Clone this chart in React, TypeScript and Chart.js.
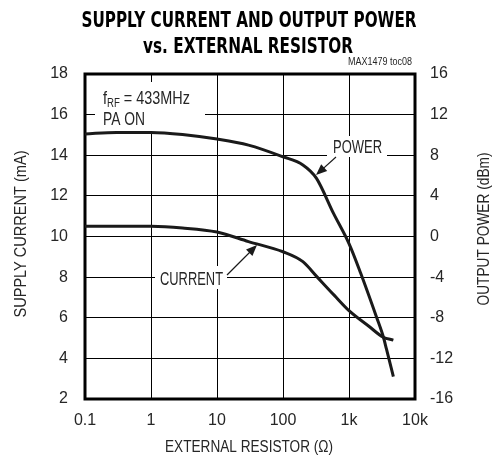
import React, { useEffect, useRef } from "react";
import { Chart, registerables } from "chart.js";

Chart.register(...registerables);

// ---- data ----
const currentResistorOhms = [0.1, 0.3, 1, 3, 10, 30, 100, 200, 320, 600, 1000, 2000, 3300, 4700];
const supplyCurrentMA = [10.5, 10.5, 10.5, 10.42, 10.22, 9.75, 9.25, 8.76, 8.05, 7.1, 6.35, 5.58, 5.04, 4.9];
const powerResistorOhms = [0.1, 0.3, 1, 3, 10, 30, 100, 200, 320, 580, 1000, 1500, 2600, 3300, 3700, 4700];
const outputPowerDBm = [10.1, 10.25, 10.25, 10.05, 9.6, 9.0, 7.85, 7.05, 5.75, 2.3, -0.7, -3.6, -7.9, -9.85, -11.1, -13.8];
const xTickValues = [0.1, 1, 10, 100, 1000, 10000];
const xTickLabels = ["0.1", "1", "10", "100", "1k", "10k"];
const titleLines = ["SUPPLY CURRENT AND OUTPUT POWER", "vs. EXTERNAL RESISTOR"];

const FONT = '"Liberation Sans", Arial, sans-serif';
const TITLE_FONT = '"DejaVu Sans Condensed", "DejaVu Sans", sans-serif';
const INK = "#1a1a1a";
const TEXT = "#262626";

function fitText(ctx: CanvasRenderingContext2D, text: string, x: number, y: number, w: number, font: string, align: CanvasTextAlign) {
  ctx.save();
  ctx.font = font;
  const m = ctx.measureText(text).width;
  ctx.translate(x, y);
  ctx.scale(w / m, 1);
  ctx.textAlign = align;
  ctx.textBaseline = "alphabetic";
  ctx.fillText(text, 0, 0);
  ctx.restore();
}

function rotText(ctx: CanvasRenderingContext2D, text: string, cx: number, cy: number, w: number, font: string) {
  ctx.save();
  ctx.font = font;
  const m = ctx.measureText(text).width;
  ctx.translate(cx, cy);
  ctx.rotate(-Math.PI / 2);
  ctx.scale(w / m, 1);
  ctx.textAlign = "center";
  ctx.textBaseline = "middle";
  ctx.fillText(text, 0, 0);
  ctx.restore();
}

function arrow(ctx: CanvasRenderingContext2D, x0: number, y0: number, x1: number, y1: number) {
  const a = Math.atan2(y1 - y0, x1 - x0);
  const L = 11, H = 4.5;
  ctx.save();
  ctx.strokeStyle = INK;
  ctx.fillStyle = INK;
  ctx.lineWidth = 1.2;
  ctx.beginPath();
  ctx.moveTo(x0, y0);
  ctx.lineTo(x1 - Math.cos(a) * L * 0.8, y1 - Math.sin(a) * L * 0.8);
  ctx.stroke();
  ctx.beginPath();
  ctx.moveTo(x1, y1);
  ctx.lineTo(x1 - Math.cos(a) * L - Math.sin(a) * H, y1 - Math.sin(a) * L + Math.cos(a) * H);
  ctx.lineTo(x1 - Math.cos(a) * L + Math.sin(a) * H, y1 - Math.sin(a) * L - Math.cos(a) * H);
  ctx.closePath();
  ctx.fill();
  ctx.restore();
}

const decorPlugin = {
  id: "decor",
  beforeDatasetsDraw(chart: any) {
    const ctx: CanvasRenderingContext2D = chart.ctx;
    const { left, top, right, bottom } = chart.chartArea;
    ctx.save();
    // white boxes behind annotations
    ctx.fillStyle = "#fff";
    ctx.fillRect(95, 82, 110, 49);
    ctx.fillRect(327, 136, 60, 21);
    ctx.fillRect(155, 266, 72, 23);
    // frame
    ctx.strokeStyle = "#000";
    ctx.lineWidth = 3;
    ctx.strokeRect(left, top, right - left, bottom - top);
    ctx.restore();
  },
  afterDraw(chart: any) {
    const ctx: CanvasRenderingContext2D = chart.ctx;
    ctx.save();
    ctx.fillStyle = "#000";
    // title
    fitText(ctx, titleLines[0], 249, 27, 335, `bold 22px ${TITLE_FONT}`, "center");
    fitText(ctx, titleLines[1], 248, 53, 210, `bold 22px ${TITLE_FONT}`, "center");
    ctx.fillStyle = TEXT;
    fitText(ctx, "MAX1479 toc08", 412, 65, 64, `10px ${FONT}`, "right");
    // axis titles
    rotText(ctx, "SUPPLY CURRENT (mA)", 22, 234, 167, `16px ${FONT}`);
    rotText(ctx, "OUTPUT POWER (dBm)", 485, 229, 153, `16px ${FONT}`);
    fitText(ctx, "EXTERNAL RESISTOR (\u03A9)", 249, 452, 168, `16px ${FONT}`, "center");
    // fRF annotation
    {
      const big = `18px ${FONT}`;
      const small = `12px ${FONT}`;
      ctx.font = big;
      const w1 = ctx.measureText("f").width;
      const w3 = ctx.measureText(" = 433MHz").width;
      ctx.font = small;
      const w2 = ctx.measureText("RF").width;
      const s = 87 / (w1 + w2 + w3);
      ctx.save();
      ctx.translate(103, 104);
      ctx.scale(s, 1);
      ctx.textAlign = "left";
      ctx.textBaseline = "alphabetic";
      ctx.font = big;
      ctx.fillText("f", 0, 0);
      ctx.font = small;
      ctx.fillText("RF", w1, 3);
      ctx.font = big;
      ctx.fillText(" = 433MHz", w1 + w2, 0);
      ctx.restore();
    }
    fitText(ctx, "PA ON", 103, 125, 42, `18px ${FONT}`, "left");
    fitText(ctx, "POWER", 333, 153, 49, `18px ${FONT}`, "left");
    fitText(ctx, "CURRENT", 160, 285, 63, `18px ${FONT}`, "left");
    arrow(ctx, 336, 157, 316, 175);
    arrow(ctx, 227, 275, 257, 245);
    ctx.restore();
  },
};

export default function App() {
  const ref = useRef<HTMLCanvasElement | null>(null);
  useEffect(() => {
    if (!ref.current) return;
    const tickFont = { family: FONT, size: 16 };
    const chart = new Chart(ref.current, {
      type: "line",
      data: {
        datasets: [
          {
            label: "CURRENT",
            data: currentResistorOhms.map((x, i) => ({ x, y: supplyCurrentMA[i] })),
            yAxisID: "y",
            borderColor: INK,
            borderWidth: 3,
            pointRadius: 0,
            cubicInterpolationMode: "monotone",
            fill: false,
          },
          {
            label: "POWER",
            data: powerResistorOhms.map((x, i) => ({ x, y: outputPowerDBm[i] })),
            yAxisID: "y1",
            borderColor: INK,
            borderWidth: 3,
            pointRadius: 0,
            cubicInterpolationMode: "monotone",
            fill: false,
          },
        ],
      },
      options: {
        responsive: false,
        animation: false,
        devicePixelRatio: 1,
        layout: { padding: { top: 74, left: 0, right: 0, bottom: 0 } },
        plugins: { legend: { display: false }, title: { display: false }, tooltip: { enabled: false } },
        scales: {
          x: {
            type: "logarithmic",
            min: 0.1,
            max: 10000,
            afterFit: (s: any) => { s.height = 60; },
            afterBuildTicks: (s: any) => { s.ticks = xTickValues.map((v) => ({ value: v })); },
            ticks: {
              autoSkip: false,
              maxRotation: 0,
              padding: 12,
              color: TEXT,
              font: tickFont,
              callback: (v: any) => {
                const i = xTickValues.findIndex((t) => Math.abs(t - Number(v)) < 1e-9 * Math.max(1, t));
                return i >= 0 ? xTickLabels[i] : "";
              },
            },
            grid: { color: "#000", lineWidth: 1, drawTicks: false },
            border: { display: false },
          },
          y: {
            position: "left",
            min: 2,
            max: 18,
            afterFit: (s: any) => { s.width = 85; },
            ticks: { stepSize: 2, padding: 17, color: TEXT, font: tickFont },
            grid: { color: "#000", lineWidth: 1, drawTicks: false },
            border: { display: false },
          },
          y1: {
            position: "right",
            min: -16,
            max: 16,
            afterFit: (s: any) => { s.width = 80; },
            ticks: { stepSize: 4, padding: 15, color: TEXT, font: tickFont },
            grid: { drawOnChartArea: false, drawTicks: false },
            border: { display: false },
          },
        },
      },
      plugins: [decorPlugin],
    } as any);
    return () => chart.destroy();
  }, []);
  return (
    <div style={{ position: "fixed", left: 0, top: 0, width: 495, height: 459, background: "#fff" }}>
      <canvas ref={ref} width={495} height={459} style={{ display: "block", width: 495, height: 459 }} />
    </div>
  );
}
